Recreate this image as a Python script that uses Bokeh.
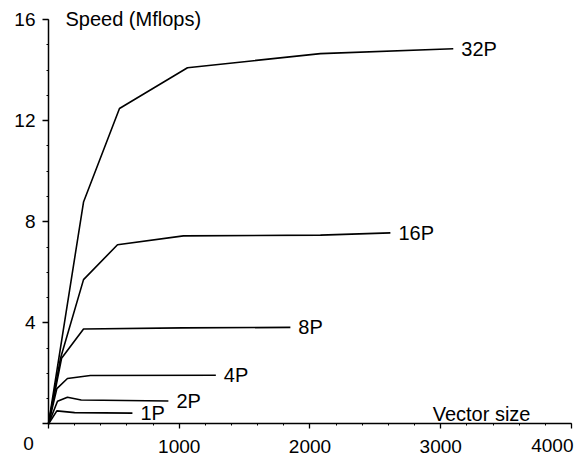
from bokeh.plotting import figure
from bokeh.models import Range1d, FixedTicker, ColumnDataSource
from bokeh.core.properties import value
from bokeh.embed import file_html
from bokeh.resources import INLINE

# ---- data ----
series_labels = ["1P", "2P", "4P", "8P", "16P", "32P"]

size_1p = [0, 64, 200, 642]
speed_1p = [0, 0.52, 0.45, 0.43]

size_2p = [0, 69, 145, 250, 917]
speed_2p = [0, 0.90, 1.06, 0.95, 0.91]

size_4p = [0, 64, 145, 320, 1280]
speed_4p = [0, 1.40, 1.80, 1.92, 1.93]

size_8p = [0, 100, 268, 1024, 1850]
speed_8p = [0, 2.60, 3.76, 3.80, 3.82]

size_16p = [0, 92, 268, 528, 1032, 2080, 2615]
speed_16p = [0, 2.60, 5.71, 7.09, 7.44, 7.47, 7.56]

size_32p = [0, 268, 543, 1063, 2080, 3096]
speed_32p = [0, 8.78, 12.48, 14.09, 14.65, 14.84]

x_ticks = [0, 1000, 2000, 3000, 4000]
y_ticks = [0, 4, 8, 12, 16]
x_minor = list(range(0, 4001, 200))
y_minor = list(range(0, 17, 1))

x_title = "Vector size"
y_title = "Speed (Mflops)"

FONT = "Liberation Sans"

all_sizes = [size_1p, size_2p, size_4p, size_8p, size_16p, size_32p]
all_speeds = [speed_1p, speed_2p, speed_4p, speed_8p, speed_16p, speed_32p]

# plot area covers the whole canvas; axes sit at fixed data locations
W, H = 580, 458
p = figure(width=W, height=H, output_backend="svg", toolbar_location=None,
           x_range=Range1d(-367, 4069), y_range=Range1d(-1.365, 16.75),
           min_border_left=0, min_border_right=0,
           min_border_top=0, min_border_bottom=0)
p.outline_line_color = None
p.xgrid.visible = False
p.ygrid.visible = False
p.background_fill_color = "white"
p.border_fill_color = "white"

xa = p.xaxis[0]
ya = p.yaxis[0]
xa.fixed_location = 0
ya.fixed_location = 0
xa.bounds = (x_ticks[0], x_ticks[-1])
ya.bounds = (y_ticks[0], y_ticks[-1])
xa.ticker = FixedTicker(ticks=x_ticks, minor_ticks=x_minor)
ya.ticker = FixedTicker(ticks=y_ticks, minor_ticks=y_minor)
xa.major_label_overrides = {x_ticks[0]: "", x_ticks[-1]: ""}
ya.major_label_overrides = {y_ticks[0]: ""}

for ax in (xa, ya):
    ax.axis_line_color = "black"
    ax.axis_line_width = 1.5
    ax.major_tick_line_color = "black"
    ax.major_tick_line_width = 1.3
    ax.minor_tick_line_color = "black"
    ax.minor_tick_line_width = 1
    ax.major_tick_in = 0
    ax.minor_tick_in = 0
    ax.major_label_text_font = FONT
    ax.major_label_text_font_size = "19px"
    ax.major_label_text_color = "black"
xa.major_tick_out = 5
xa.minor_tick_out = 2
xa.major_label_standoff = 11
ya.major_tick_out = 6
ya.minor_tick_out = 2
ya.major_label_standoff = 7

# curves
for xs, ys in zip(all_sizes, all_speeds):
    p.line(xs, ys, line_color="black", line_width=1.6)

# curve labels at the end of each curve
lab_src = ColumnDataSource(dict(
    x=[xs[-1] for xs in all_sizes],
    y=[ys[-1] for ys in all_speeds],
    t=series_labels,
))
p.text(x="x", y="y", text="t", source=lab_src,
       text_font=value(FONT), text_font_size="20px", text_color="black",
       text_align="left", text_baseline="middle", x_offset=8)


def add_text(x, y, text, size, align, dx, dy):
    p.text(x=[x], y=[y], text=[text],
           text_font=value(FONT), text_font_size=size, text_color="black",
           text_align=align, text_baseline="middle", x_offset=dx, y_offset=dy)


# axis titles and corner tick labels
add_text(x_ticks[0], y_ticks[-1], y_title, "20px", "left", 17, 0)
add_text(x_ticks[-1], y_ticks[0], x_title, "20px", "right", -41, -10)
add_text(x_ticks[0], y_ticks[0], str(x_ticks[0]), "19px", "center", -20, 20)
add_text(x_ticks[-1], y_ticks[0], str(x_ticks[-1]), "19px", "right", 2, 22)

open("out.html", "w").write(file_html(p, INLINE))
